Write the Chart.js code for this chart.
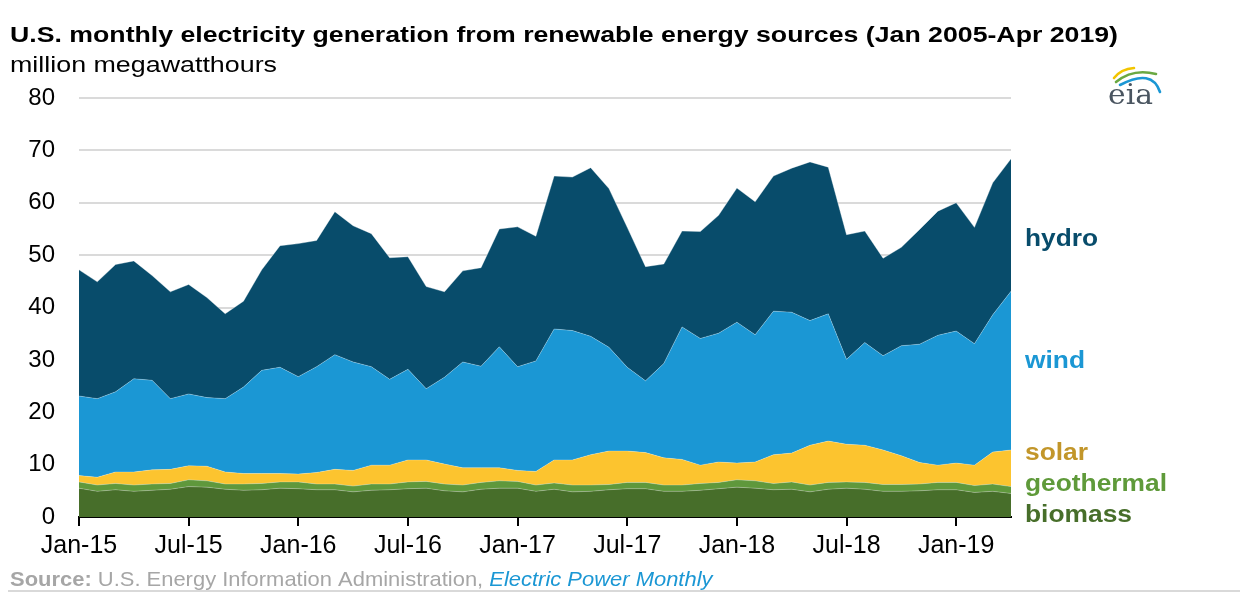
<!DOCTYPE html>
<html>
<head>
<meta charset="utf-8">
<script src="https://cdn.jsdelivr.net/npm/chart.js@4"></script>
<style>
  html, body { margin: 0; padding: 0; background: #fff; }
  #wrap { width: 1248px; height: 600px; position: relative; }
</style>
</head>
<body>
<div id="wrap"><canvas id="genChart" width="1248" height="600"></canvas></div>
<script>
// month labels Jan-15 .. Apr-19
const months = ['Jan','Feb','Mar','Apr','May','Jun','Jul','Aug','Sep','Oct','Nov','Dec'];
const labels = [];
for (let y = 15; y <= 19; y++) {
    for (let m = 0; m < 12; m++) {
        if (y === 19 && m > 3) break;
        labels.push(months[m] + '-' + y);
    }
}

// million MWh
const biomass = [5.5,4.9,5.2,4.9,5.1,5.3,5.8,5.7,5.3,5.1,5.2,5.5,5.4,5.2,5.2,4.8,5.1,5.2,
    5.4,5.5,5.0,4.8,5.3,5.5,5.5,4.9,5.3,4.8,4.9,5.2,5.4,5.4,4.9,4.9,5.1,5.4,
    5.7,5.5,5.2,5.3,4.8,5.3,5.5,5.3,4.9,4.9,5.0,5.2,5.2,4.7,4.9,4.5];
const geothermal = [1.2,1.2,1.2,1.2,1.2,1.1,1.3,1.2,1.0,1.2,1.2,1.2,1.3,1.1,1.1,1.1,1.2,1.1,
    1.3,1.3,1.3,1.3,1.3,1.4,1.3,1.2,1.2,1.3,1.2,1.0,1.2,1.2,1.2,1.2,1.3,1.2,
    1.4,1.4,1.2,1.4,1.3,1.3,1.2,1.3,1.3,1.3,1.3,1.4,1.4,1.3,1.4,1.3];
const solar = [1.2,1.5,2.2,2.5,2.7,2.7,2.7,2.8,2.3,2.0,1.9,1.6,1.5,2.2,2.8,3.0,3.6,3.6,
    4.2,4.1,3.8,3.3,2.8,2.5,2.1,2.6,4.4,4.8,5.8,6.4,6.0,5.7,5.2,4.9,3.5,3.9,
    3.2,3.6,5.5,5.5,7.6,7.9,7.2,7.1,6.6,5.5,4.1,3.3,3.7,3.9,6.1,7.0];
const wind = [15.2,15.0,15.3,17.8,17.1,13.5,13.7,13.1,14.0,16.5,19.7,20.3,18.6,20.2,21.9,20.7,18.8,16.4,
    17.3,13.6,16.6,20.2,19.4,23.1,19.8,21.1,25.0,24.7,22.6,19.8,16.0,13.7,18.0,25.3,24.2,24.6,
    26.9,24.3,27.4,26.9,23.8,24.3,16.2,19.6,18.0,21.0,22.6,24.8,25.2,23.2,26.2,30.3];
const hydro = [24.1,22.3,24.3,22.5,20.0,20.4,20.9,19.1,16.2,16.4,19.2,23.2,25.4,24.1,27.3,26.0,25.4,23.2,
    21.5,19.5,16.3,17.4,18.8,22.5,26.7,23.8,29.2,29.3,32.2,30.3,26.7,21.8,19.0,18.3,20.4,22.5,
    25.6,25.4,25.8,27.5,30.3,28.0,23.8,21.3,18.6,18.8,21.9,23.7,24.5,22.2,25.2,25.3];

const yTicks = [0,10,20,30,40,50,60,70,80];

const seriesNames = ['biomass','geothermal','solar','wind','hydro'];
const seriesData = [biomass, geothermal, solar, wind, hydro];
const fillColors = ['#476e2a','#5f983c','#fcc42f','#1b97d4','#084c6b'];
const labelColors = ['#476e2a','#5f9a3a','#c2962a','#1b97d4','#084c6b'];
const labelY = [516, 485, 454, 362, 240];
const labelW = [107, 142, 63, 60, 73];

const FONT = '"Liberation Sans", Arial, sans-serif';

// draw text squeezed/stretched to a given width (the original is a bit wide)
function fitText(ctx, txt, x, y, w) {
    const mw = ctx.measureText(txt).width;
    ctx.save();
    ctx.translate(x, y);
    ctx.scale(w / mw, 1);
    ctx.fillText(txt, 0, 0);
    ctx.restore();
    return w;
}

const decorPlugin = {
    id: 'decor',
    afterDraw(chart) {
        const ctx = chart.ctx;
        ctx.save();
        ctx.textBaseline = 'alphabetic';
        ctx.textAlign = 'left';
        ctx.fillStyle = '#000';
        ctx.font = 'bold 21.5px ' + FONT;
        fitText(ctx, 'U.S. monthly electricity generation from renewable energy sources (Jan 2005-Apr 2019)', 10, 42, 1108);
        ctx.font = '22px ' + FONT;
        fitText(ctx, 'million megawatthours', 10, 72, 267);

        // series labels on the right
        ctx.font = 'bold 23px ' + FONT;
        ctx.textBaseline = 'middle';
        seriesNames.forEach((n, i) => {
            ctx.fillStyle = labelColors[i];
            fitText(ctx, n, 1025, labelY[i], labelW[i]);
        });

        // source line
        ctx.textBaseline = 'alphabetic';
        const by = 586;
        const k = 1.045;
        let x = 10;
        ctx.fillStyle = '#a6a6a6';
        ctx.font = 'bold 21px ' + FONT;
        x += fitText(ctx, 'Source: ', x, by, ctx.measureText('Source: ').width * k);
        ctx.font = '21px ' + FONT;
        const mid = 'U.S. Energy Information Administration, ';
        x += fitText(ctx, mid, x, by, ctx.measureText(mid).width * k);
        ctx.fillStyle = '#1b97d4';
        ctx.font = 'italic 21px ' + FONT;
        fitText(ctx, 'Electric Power Monthly', x, by, ctx.measureText('Electric Power Monthly').width * k);

        ctx.strokeStyle = '#d9d9d9';
        ctx.lineWidth = 2;
        ctx.beginPath();
        ctx.moveTo(8, 591);
        ctx.lineTo(1240, 591);
        ctx.stroke();

        // eia logo
        ctx.fillStyle = '#4a5560';
        ctx.font = '28px "DejaVu Serif", "Liberation Serif", serif';
        fitText(ctx, 'eia', 1108, 104, 45);
        ctx.lineCap = 'round';
        ctx.lineWidth = 2.6;
        ctx.strokeStyle = '#f2c500';
        ctx.beginPath();
        ctx.moveTo(1114, 78);
        ctx.quadraticCurveTo(1121, 69, 1134, 68);
        ctx.stroke();
        ctx.strokeStyle = '#6aa842';
        ctx.beginPath();
        ctx.moveTo(1116, 82);
        ctx.quadraticCurveTo(1133, 68, 1156, 74);
        ctx.stroke();
        ctx.strokeStyle = '#1b97d4';
        ctx.beginPath();
        ctx.moveTo(1120, 85);
        ctx.quadraticCurveTo(1152, 68, 1160, 92);
        ctx.stroke();
        ctx.restore();
    }
};

const datasets = seriesNames.map((n, i) => ({
    label: n,
    data: seriesData[i],
    backgroundColor: fillColors[i],
    borderColor: i === 4 ? 'rgba(255,255,255,0.35)' : 'rgba(255,255,255,0.25)',
    borderWidth: 1,
    pointRadius: 0,
    tension: 0,
    fill: i === 0 ? 'origin' : '-1'
}));

const genChart = new Chart(document.getElementById('genChart'), {
    type: 'line',
    data: { labels: labels, datasets: datasets },
    plugins: [decorPlugin],
    options: {
        responsive: false,
        animation: false,
        layout: { padding: { top: 98, right: 237, bottom: 0, left: 0 } },
        plugins: { legend: { display: false }, tooltip: { enabled: false } },
        scales: {
            x: {
                offset: false,
                afterFit(scale) { scale.height = 83; },
                grid: {
                    drawOnChartArea: false,
                    drawTicks: true,
                    tickLength: 9,
                    lineWidth: 2,
                    color: c => (c.index % 6 === 0 ? '#000' : 'rgba(0,0,0,0)')
                },
                border: { display: true, color: '#000', width: 2 },
                ticks: {
                    autoSkip: false,
                    maxRotation: 0,
                    padding: 5,
                    color: '#000',
                    font: { size: 25, family: FONT },
                    callback: (v, i) => (i % 6 === 0 ? labels[i] : '')
                }
            },
            y: {
                stacked: true,
                min: 0,
                max: 80,
                afterFit(scale) { scale.width = 79; },
                afterBuildTicks(scale) { scale.ticks = yTicks.map(v => ({ value: v })); },
                grid: { color: '#dadada', lineWidth: 2, drawTicks: false },
                border: { display: false },
                ticks: {
                    padding: 24,
                    color: '#000',
                    font: { size: 24, family: FONT }
                }
            }
        }
    }
});
</script>
</body>
</html>
